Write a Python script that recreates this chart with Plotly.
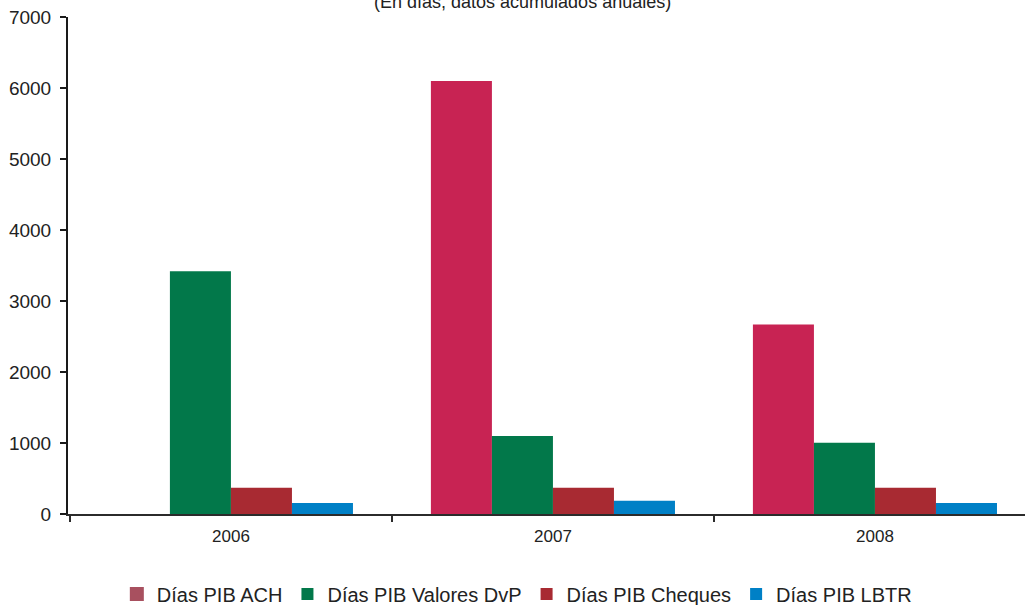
import plotly.graph_objects as go

# Años y series (días PIB, datos acumulados anuales)
years = ["2006", "2007", "2008"]
series_names = ["Días PIB ACH", "Días PIB Valores DvP", "Días PIB Cheques", "Días PIB LBTR"]
ach = [None, 6100, 2670]
dvp = [3420, 1100, 1005]
cheques = [370, 370, 370]
lbtr = [155, 185, 155]
y_ticks = [0, 1000, 2000, 3000, 4000, 5000, 6000, 7000]

bar_colors = ["#c82353", "#02784a", "#a82a32", "#0080c6"]
ach_legend_color = "#a8505f"
font_family = "Liberation Sans, Arial, sans-serif"

fig = go.Figure()
for i, (name, vals, color) in enumerate(zip(series_names, [ach, dvp, cheques, lbtr], bar_colors)):
    is_ach = i == 0
    fig.add_trace(go.Bar(
        x=years, y=vals, name=name,
        marker=dict(color=color, line=dict(width=0)),
        showlegend=not is_ach,
        legendrank=2 + i,
    ))
    if is_ach:
        # ACH legend swatch uses a softer tone than its bars
        fig.add_trace(go.Scatter(
            x=[None], y=[None], name=name, mode="markers",
            marker=dict(color=ach_legend_color, symbol="square", size=14),
            legendrank=1,
        ))

fig.update_layout(
    width=1025, height=605,
    margin=dict(l=68, r=0, t=17, b=91, autoexpand=False),
    paper_bgcolor="white", plot_bgcolor="white",
    barmode="group", bargap=0.242, bargroupgap=0,
    font=dict(family=font_family, color="#222222"),
    showlegend=True,
    legend=dict(
        orientation="h", x=0.469, xanchor="center", y=-0.161, yanchor="middle",
        font=dict(size=20, color="#222222"), itemwidth=30,
        traceorder="normal", bgcolor="rgba(0,0,0,0)",
    ),
    xaxis=dict(
        type="category", range=[-0.506, 2.466],
        showline=True, linecolor="#2b2b2b", linewidth=2,
        ticks="outside", tickson="boundaries", ticklen=6, tickwidth=2, tickcolor="#2b2b2b",
        tickfont=dict(size=17, color="#222222"), ticklabelstandoff=6,
        showgrid=False, zeroline=False,
    ),
    yaxis=dict(
        range=[0, 7000], tickvals=y_ticks,
        showline=True, linecolor="#1a1a1a", linewidth=2,
        ticks="outside", ticklen=6, tickwidth=2, tickcolor="#1a1a1a",
        tickfont=dict(size=19, color="#222222"), ticklabelstandoff=5,
        showgrid=False, zeroline=True, zerolinecolor="#b0b0b0", zerolinewidth=1,
    ),
    annotations=[dict(
        text="(En días, datos acumulados anuales)",
        xref="paper", yref="paper", x=0.475, y=1, xanchor="center", yanchor="middle",
        yshift=15, showarrow=False, font=dict(size=18, color="#222222"),
    )],
)

fig.write_html("out.html")
